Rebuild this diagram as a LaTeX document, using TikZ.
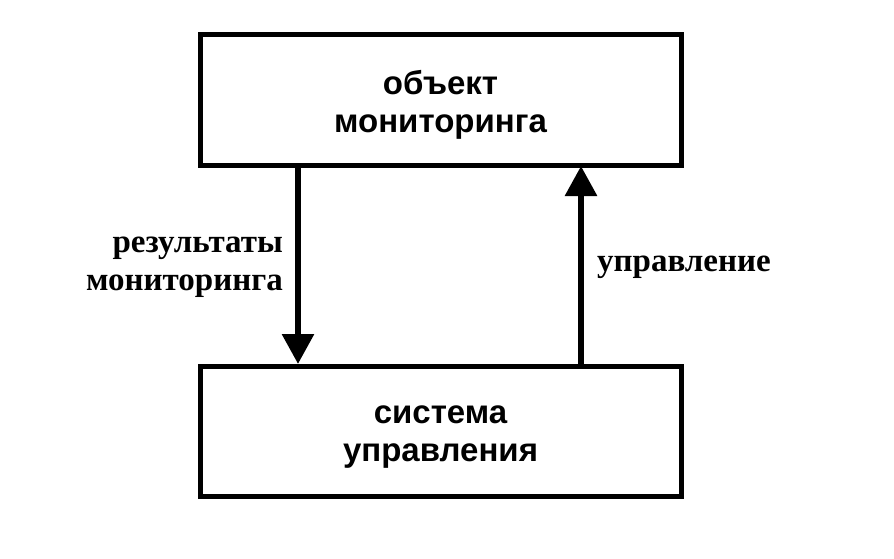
\documentclass[tikz,border=0pt]{standalone}
\usepackage{fontspec}
\setmainfont{Liberation Serif}
\setsansfont{Liberation Sans}
\usetikzlibrary{arrows.meta}
\begin{document}
\begin{tikzpicture}[x=1pt,y=-1pt,
  blockbox/.style={draw=black,line width=5pt,minimum width=481pt,minimum height=130pt,inner sep=0pt},
  boxtext/.style={font=\sffamily\bfseries\fontsize{33}{38}\selectfont,align=center,inner sep=0pt},
  flow/.style={line width=6pt,-{Triangle[width=31pt,length=30pt]}},
  lbl/.style={font=\bfseries\fontsize{33}{38}\selectfont,inner sep=0pt}]
\useasboundingbox (0,0) rectangle (894,559);
\node[blockbox] (obj) at (440.5,100) {};
\node[blockbox] (sys) at (440.5,431.5) {};
\node[boxtext] (objt) at (440.5,105) {объект\\мониторинга};
\node[boxtext] (syst) at (440.5,437) {система\\управления};
\coordinate (a1) at (298,166);
\coordinate (a2) at (298,364);
\coordinate (b1) at (581,364);
\coordinate (b2) at (581,166);
\draw[flow] (a1) -- (a2);
\draw[flow] (b1) -- (b2);
\node[lbl,anchor=east,align=right] (l1) at (283,267) {результаты\\мониторинга};
\node[lbl,anchor=west] (l2) at (597,267) {управление};
\end{tikzpicture}
\end{document}
